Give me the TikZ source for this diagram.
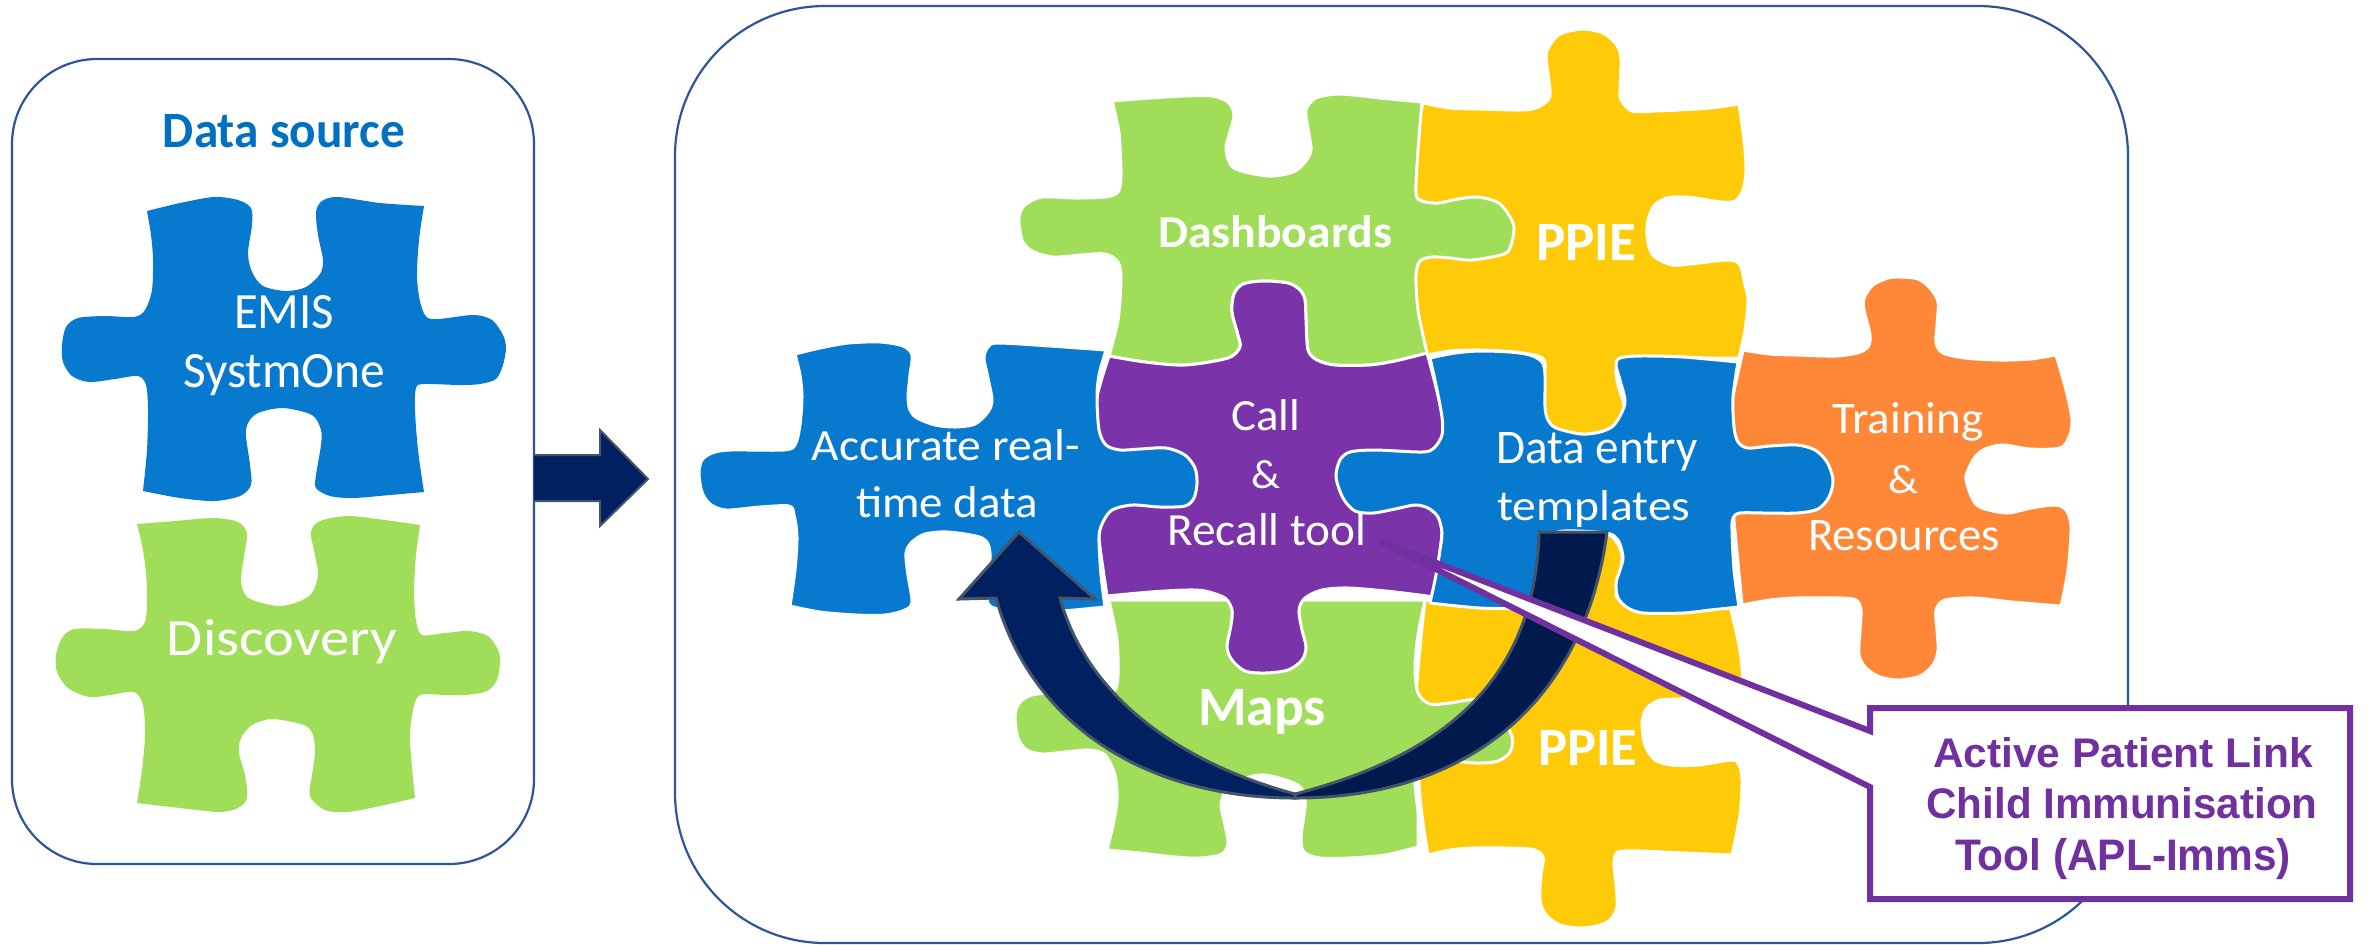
\documentclass[tikz,border=0pt]{standalone}
\usepackage{fontspec}
\usepackage{graphicx}
\setmainfont{Carlito}
\newfontfamily\libfont{Liberation Sans}
\newlength\pxu \setlength\pxu{0.01cm}
\newcommand\fitx[3]{\resizebox{#1\pxu}{#2\pxu}{#3}}
\definecolor{pblue}{HTML}{0779CE}
\definecolor{pgreen}{HTML}{A0DE5A}
\definecolor{ppurple}{HTML}{7A33A8}
\definecolor{pyellow}{HTML}{FFCB08}
\definecolor{porange}{HTML}{FE8738}
\definecolor{frameblue}{HTML}{2F5597}
\definecolor{navy}{HTML}{002060}
\definecolor{navyd}{HTML}{001A4E}
\definecolor{slateedge}{HTML}{44546A}
\definecolor{callpurple}{HTML}{7030A0}
\definecolor{headblue}{HTML}{0070C0}
\tikzset{
  frame/.style={draw=frameblue,line width=2.2\pxu,fill=white},
  piece/.style={draw=white,line width=3\pxu,line join=round},
  plainpiece/.style={line join=round},
  bigarrow/.style={draw=slateedge,line width=3\pxu,line join=miter},
  sm/.style={smooth,tension=0.5},
  lbl/.style={anchor=base,inner sep=0pt,outer sep=0pt,text=white,font=\fontsize{12}{12}\selectfont},
  lblb/.style={lbl,font=\fontsize{12}{12}\selectfont\bfseries},
  calltxt/.style={anchor=base,inner sep=0pt,outer sep=0pt,text=callpurple,font=\libfont\bfseries\fontsize{12}{12}\selectfont},
}
\begin{document}
\begin{tikzpicture}[x=0.01cm,y=-0.01cm]
\useasboundingbox (0,0) rectangle (2369,944);
\fill[white] (0,0) rectangle (2369,944);
% frames
\draw[frame,rounded corners=85\pxu] (12,59) rectangle (534,864);
\draw[frame,rounded corners=150\pxu] (675,6) rectangle (2128,943);
% block arrow
\fill[navy] (534,455) -- (600,455) -- (600,430) -- (648,479) -- (600,526) -- (600,501) -- (534,501) -- cycle;
\draw[slateedge,line width=2\pxu,line join=miter] (534,455) -- (600,455) -- (600,430) -- (648,479) -- (600,526) -- (600,501) -- (534,501);
% EMIS
\path[plainpiece,fill=pblue]
 plot[sm] coordinates {(147,211)(180,203)(214,197)(238,200)(251,208)(252,225)(248,253)(252,272)(263,286)(286,291)(306,287)(320,274)(323,260)(318,235)(316,212)(322,201)(338,197)(380,203)(424,206)}
 -- plot[sm] coordinates {(424,206)(419,240)(417,277)(421,305)(431,319)(473,315)(492,320)(503,335)(506,348)(503,365)(496,379)(480,384)(460,385)(424,384)(416,388)(415,410)(418,450)(424,492)}
 -- plot[sm] coordinates {(424,492)(390,495)(353,498)(330,496)(316,488)(316,475)(321,445)(321,430)(312,415)(283,408)(258,413)(248,423)(246,436)(250,465)(251,485)(240,496)(214,501)(180,498)(143,491)}
 -- plot[sm] coordinates {(143,491)(147,450)(148,409)(146,385)(138,376)(115,379)(89,382)(72,376)(63,362)(62,345)(66,327)(78,318)(105,316)(134,317)(145,310)(152,290)(153,259)(151,235)(147,211)} -- cycle;
% Discovery
\path[plainpiece,fill=pgreen]
 plot[sm] coordinates {(137,524)(175,521)(214,518)(238,522)(247,533)(245,550)(241,578)(243,590)(250,599)(277,606)(298,602)(312,593)(318,575)(315,555)(311,532)(320,521)(348,516)(385,520)(420,525)}
 -- plot[sm] coordinates {(420,525)(416,555)(414,590)(416,620)(422,635)(445,633)(469,631)(488,636)(498,650)(500,662)(497,680)(487,691)(466,695)(446,695)(420,695)(413,710)(410,741)(415,798)}
 -- plot[sm] coordinates {(415,798)(380,806)(348,812)(325,810)(310,796)(312,775)(315,753)(313,735)(304,725)(272,719)(252,725)(241,738)(239,753)(245,775)(247,798)(238,808)(219,812)(180,808)(137,803)}
 -- plot[sm] coordinates {(137,803)(142,770)(145,735)(143,705)(134,692)(110,695)(89,697)(68,688)(57,672)(56,655)(62,638)(74,629)(105,629)(134,631)(145,622)(147,600)(146,572)(142,545)(137,524)} -- cycle;
% top PPIE
\path[piece,fill=pyellow]
 plot[sm] coordinates {(1423,103)(1450,108)(1480,109)(1520,110)(1536,108)(1548,100)(1550,90)(1546,57)(1550,45)(1560,34)(1582,29)(1603,33)(1616,44)(1621,58)(1620,90)(1621,100)(1632,111)(1655,111)(1678,110)(1710,108)(1739,104)}
 -- plot[sm] coordinates {(1739,104)(1744,140)(1746,170)(1743,190)(1735,201)(1721,202)(1695,198)(1672,197)(1660,201)(1653,207)(1648,220)(1647,235)(1650,250)(1656,258)(1672,265)(1690,264)(1728,260)(1740,265)(1745,285)(1748,300)(1745,330)(1739,358)}
 -- plot[sm] coordinates {(1739,358)(1710,358)(1678,357)(1640,357)(1622,360)(1616,370)(1618,385)(1624,407)(1620,420)(1610,429)(1582,435)(1560,432)(1549,425)(1544,405)(1543,385)(1545,363)(1538,356)(1515,352)(1480,350)(1450,351)(1423,356)}
 -- (1412,300) -- (1412,150) -- cycle;
% bottom PPIE
\path[piece,fill=pyellow]
 plot[sm] coordinates {(1425,600)(1530,600)(1537,570)(1545,540)(1580,528)(1610,535)(1622,555)(1618,585)(1622,600)(1700,610)(1730,606)}
 -- plot[sm] coordinates {(1730,606)(1738,640)(1742,667)(1741,682)(1730,692)(1705,696)(1680,699)(1660,700)(1647,708)(1642,722)(1645,745)(1655,760)(1672,765)(1698,765)(1732,760)(1739,765)(1742,780)(1740,815)(1732,855)}
 -- plot[sm] coordinates {(1732,855)(1683,853)(1640,851)(1618,852)(1614,862)(1616,885)(1617,907)(1610,920)(1597,926)(1579,928)(1560,925)(1546,915)(1540,900)(1541,875)(1543,857)(1530,849)(1477,848)(1450,850)(1428,855)}
 -- plot[sm] coordinates {(1428,855)(1420,797)(1416,700)(1425,600)} -- cycle;
% Training
\path[piece,fill=porange]
 plot[sm] coordinates {(1743,350)(1770,354)(1796,355)(1835,356)(1857,353)(1868,347)(1870,335)(1864,310)(1864,298)(1873,285)(1888,278)(1901,277)(1918,279)(1930,288)(1938,302)(1937,325)(1936,343)(1943,353)(1965,358)(2000,360)(2030,359)(2056,355)}
 -- plot[sm] coordinates {(2056,355)(2066,390)(2072,420)(2069,437)(2060,448)(2030,449)(2003,445)(1985,449)(1975,457)(1968,470)(1966,480)(1973,500)(1982,508)(2007,513)(2031,508)(2055,505)(2066,510)(2071,527)(2068,570)(2061,606)}
 -- plot[sm] coordinates {(2061,606)(2012,602)(1975,598)(1945,600)(1936,610)(1937,630)(1938,650)(1933,665)(1920,676)(1899,680)(1880,677)(1866,668)(1859,655)(1860,630)(1861,610)(1856,600)(1840,598)(1796,598)(1770,600)(1742,605)}
 -- (1732,500) -- (1732,400) -- cycle;
% Dashboards
\path[piece,fill=pgreen]
 plot[sm] coordinates {(1112,101)(1150,98)(1185,96)(1212,96)(1228,102)(1234,115)(1229,135)(1226,150)(1234,168)(1268,176)(1293,172)(1305,162)(1311,150)(1308,128)(1306,110)(1316,98)(1340,94)(1380,98)(1422,102)}
 -- plot[sm] coordinates {(1422,102)(1418,150)(1416,193)(1422,201)(1438,203)(1458,199)(1478,197)(1497,202)(1507,212)(1514,227)(1511,245)(1504,254)(1472,260)(1450,258)(1432,257)(1420,261)(1416,275)(1418,310)(1427,353)}
 -- plot[sm] coordinates {(1427,353)(1395,361)(1369,365)(1335,365)(1317,360)(1308,350)(1306,320)(1305,300)(1300,290)(1288,283)(1263,281)(1243,284)(1234,294)(1232,312)(1238,335)(1240,347)(1228,358)(1185,365)(1145,362)(1109,356)}
 -- plot[sm] coordinates {(1109,356)(1118,320)(1121,280)(1118,262)(1105,254)(1080,255)(1053,257)(1032,251)(1022,240)(1019,217)(1025,205)(1042,197)(1075,198)(1105,197)(1118,192)(1121,175)(1119,133)(1112,101)} -- cycle;
% Maps
\path[piece,fill=pgreen]
 (1109,600) -- (1425,600)
 -- plot[sm] coordinates {(1425,600)(1418,635)(1415,667)(1418,693)(1430,704)(1450,703)(1477,700)(1500,715)(1512,737)(1510,752)(1498,761)(1477,763)(1455,761)(1441,760)(1422,766)(1415,780)(1418,813)(1418,847)}
 -- plot[sm] coordinates {(1418,847)(1385,855)(1349,858)(1320,858)(1304,852)(1301,838)(1304,815)(1305,800)(1298,785)(1265,775)(1240,780)(1226,790)(1221,805)(1225,825)(1228,843)(1222,854)(1200,858)(1175,857)(1140,853)(1107,850)}
 -- plot[sm] coordinates {(1107,850)(1113,825)(1117,800)(1115,775)(1105,755)(1089,750)(1065,752)(1043,754)(1027,750)(1018,738)(1015,715)(1020,702)(1032,695)(1053,693)(1104,693)(1115,690)(1118,675)(1117,640)(1109,600)} -- cycle;
% Call and Recall
\path[piece,fill=ppurple]
 plot[sm] coordinates {(1109,356)(1145,362)(1185,365)(1228,358)(1240,347)(1238,335)(1232,312)(1234,294)(1243,284)(1263,281)(1288,283)(1300,290)(1305,300)(1306,320)(1308,350)(1317,360)(1335,365)(1369,365)(1395,361)(1427,353)}
 -- plot[sm] coordinates {(1427,353)(1443,420)(1443,480)(1442,533)(1434,597)}
 -- plot[sm] coordinates {(1434,597)(1395,592)(1349,588)(1322,590)(1305,598)(1299,610)(1302,630)(1306,647)(1302,660)(1288,670)(1265,673)(1245,671)(1232,660)(1227,647)(1231,625)(1232,610)(1225,598)(1205,591)(1186,590)(1150,592)(1107,596)}
 -- plot[sm] coordinates {(1107,596)(1098,530)(1097,480)(1097,430)(1097,397)(1109,356)} -- cycle;
% Accurate
\path[piece,fill=pblue]
 plot[sm] coordinates {(795,354)(820,348)(848,343)(880,342)(903,346)(912,355)(910,375)(908,397)(910,410)(917,418)(935,425)(955,427)(975,424)(988,412)(992,400)(988,378)(984,358)(988,347)(998,343)(1050,346)(1106,350)}
 -- plot[sm] coordinates {(1106,350)(1099,375)(1097,397)(1099,430)(1106,445)(1120,450)(1140,449)(1166,448)(1185,455)(1195,468)(1197,483)(1194,498)(1185,506)(1160,507)(1132,505)(1112,510)(1103,522)(1099,537)(1101,575)(1105,607)}
 -- plot[sm] coordinates {(1105,607)(1047,612)(1005,610)(990,606)(987,595)(990,553)(982,538)(948,532)(925,534)(912,542)(906,553)(908,575)(912,602)(905,610)(885,615)(856,615)(820,612)(790,606)}
 -- plot[sm] coordinates {(790,606)(795,570)(797,537)(794,515)(789,506)(760,507)(726,510)(710,504)(702,492)(699,473)(702,460)(712,453)(730,450)(783,450)(795,445)(800,425)(802,397)(800,375)(795,354)} -- cycle;
% Data entry
\path[piece,fill=pblue]
 plot[sm] coordinates {(1430,358)(1455,353)(1480,351)(1510,352)(1530,355)(1542,362)(1545,375)(1545,407)(1548,420)(1556,428)(1581,434)(1600,432)(1613,426)(1622,412)(1625,400)(1620,380)(1616,365)(1620,358)(1640,356)(1683,357)(1738,362)}
 -- plot[sm] coordinates {(1738,362)(1733,397)(1734,427)(1738,442)(1748,448)(1770,446)(1797,445)(1815,450)(1827,462)(1833,480)(1829,497)(1818,509)(1797,513)(1765,513)(1740,513)(1733,518)(1732,530)(1734,570)(1739,607)}
 -- plot[sm] coordinates {(1739,607)(1710,610)(1683,613)(1644,613)(1628,608)(1618,598)(1616,583)(1620,570)(1623,557)(1618,540)(1606,533)(1564,531)(1545,537)(1539,547)(1537,573)(1533,603)(1525,608)(1480,608)(1430,603)}
 -- plot[sm] coordinates {(1430,603)(1436,575)(1440,550)(1442,533)(1438,517)(1428,508)(1415,505)(1395,509)(1373,513)(1355,511)(1343,498)(1336,477)(1340,460)(1350,452)(1375,450)(1422,452)(1434,448)(1442,435)(1442,417)(1436,385)(1430,358)} -- cycle;
% piece labels
\node[lbl] (emis) at (284,328) {\fitx{100}{33}{EMIS}};
\node[lbl] (systm) at (284,387) {\fitx{202}{33}{SystmOne}};
\node[lbl] (disc) at (282,655) {\fitx{230}{36}{Discovery}};
\node[lblb,text=headblue] (dsrc) at (284,147) {\fitx{242}{33}{Data source}};
\node[lblb] (dash) at (1275,247) {\fitx{234}{32}{Dashboards}};
\node[lblb] (ppiea) at (1586,260) {\fitx{100}{36}{PPIE}};
\node[lbl] (acca) at (946,460) {\fitx{268}{31}{Accurate real-}};
\node[lbl] (accb) at (947,517) {\fitx{182}{31}{time data}};
\node[lbl] (calla) at (1266,430) {\fitx{69}{31}{Call}};
\node[lbl] (callb) at (1266,488) {\fitx{29}{28}{\&}};
\node[lbl] (callc) at (1267,545) {\fitx{199}{32}{Recall tool}};
\node[lbl] (dataa) at (1597,463) {\fitx{201}{31}{Data entry}};
\node[lbl] (datab) at (1594,520) {\fitx{193}{30}{templates}};
\node[lbl] (traina) at (1908,433) {\fitx{151}{31}{Training}};
\node[lbl] (trainb) at (1903,493) {\fitx{30}{28}{\&}};
\node[lbl] (trainc) at (1904,550) {\fitx{192}{30}{Resources}};
\node[lblb] (maps) at (1262,725) {\fitx{128}{36}{Maps}};
\node[lblb] (ppieb) at (1588,765) {\fitx{99}{35}{PPIE}};
% curved arrow
\path[bigarrow,fill=navyd]
 (1539,532) -- (1607,532)
 .. controls (1585,700) and (1470,798) .. (1295,798)
 -- (1295,794)
 .. controls (1445,755) and (1535,680) .. (1539,532) -- cycle;
\path[bigarrow,fill=navy]
 (1019,532) -- (1095,599) -- (1060,598)
 .. controls (1085,690) and (1170,760) .. (1295,794)
 -- (1295,798)
 .. controls (1140,798) and (1030,720) .. (996,598)
 -- (959,599) -- cycle;
% callout
\draw[draw=callpurple,fill=white,line width=6\pxu,miter limit=2]
 (1870,708) -- (1870,731) -- (1380,541) -- (1870,787) -- (1870,899) -- (2350,899) -- (2350,708) -- cycle;
\node[calltxt] (apla) at (2123,767) {\fitx{380}{30}{Active Patient Link}};
\node[calltxt] (aplb) at (2122,818) {\fitx{391}{31}{Child Immunisation}};
\node[calltxt] (aplc) at (2123,870) {\fitx{336}{32}{Tool (APL-Imms)}};
\end{tikzpicture}
\end{document}
